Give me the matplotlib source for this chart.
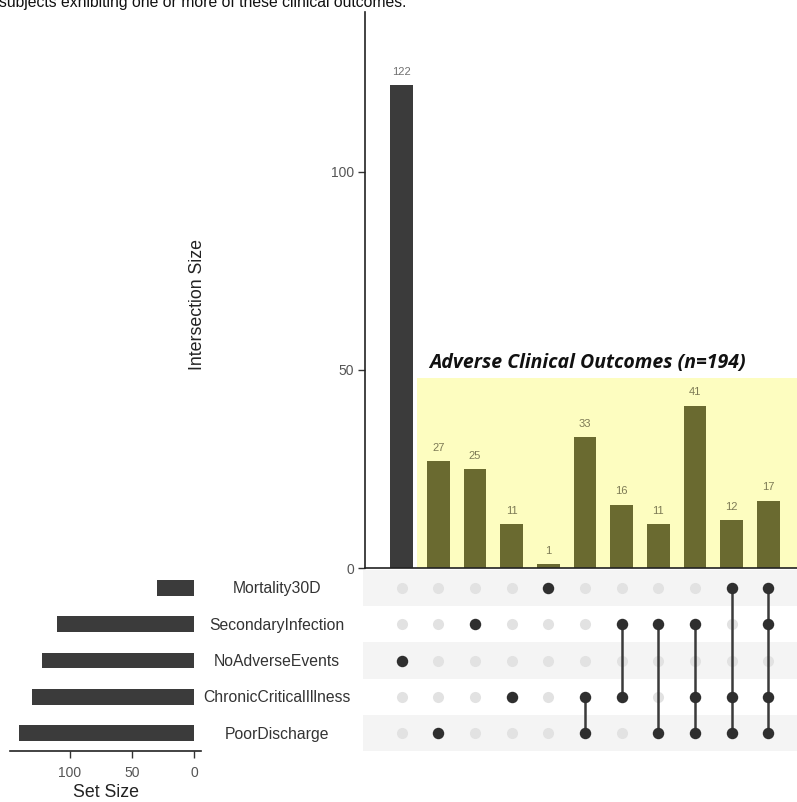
import matplotlib
matplotlib.use("Agg")
import matplotlib.pyplot as plt
from matplotlib.patches import Rectangle

# ---- data -------------------------------------------------------------
set_names = ["Mortality30D", "SecondaryInfection", "NoAdverseEvents",
             "ChronicCriticalIllness", "PoorDischarge"]
intersection_sizes = [122, 27, 25, 11, 1, 33, 16, 11, 41, 12, 17]
# members of each intersection (by set name)
intersection_members = [
    ["NoAdverseEvents"],
    ["PoorDischarge"],
    ["SecondaryInfection"],
    ["ChronicCriticalIllness"],
    ["Mortality30D"],
    ["ChronicCriticalIllness", "PoorDischarge"],
    ["SecondaryInfection", "ChronicCriticalIllness"],
    ["SecondaryInfection", "PoorDischarge"],
    ["SecondaryInfection", "ChronicCriticalIllness", "PoorDischarge"],
    ["Mortality30D", "ChronicCriticalIllness", "PoorDischarge"],
    ["Mortality30D", "SecondaryInfection", "ChronicCriticalIllness", "PoorDischarge"],
]
intersection_ticks = [0, 50, 100]
set_size_ticks = [100, 50, 0]
highlight_top = 48
title_text = "Adverse Clinical Outcomes (n=194)"
caption_text = "subjects exhibiting one or more of these clinical outcomes."

set_sizes = [sum(s for s, m in zip(intersection_sizes, intersection_members) if n in m)
             for n in set_names]

# ---- layout helpers ---------------------------------------------------
W, H = 797, 802
fig = plt.figure(figsize=(W / 100, H / 100), dpi=100)
plt.rcParams["font.family"] = ["Liberation Sans", "DejaVu Sans"]


def rect(x0, y0, x1, y1):
    return [x0 / W, 1 - y1 / H, (x1 - x0) / W, (y1 - y0) / H]


n = len(intersection_sizes)
col0, colstep = 401.7, 36.67
xl = ((365 - col0) / colstep, (797 - col0) / colstep)
dark = "#3b3b3b"
olive = "#6a6a30"
label_gray = "#555555"

# ---- intersection bar chart ------------------------------------------
axb = fig.add_axes(rect(365, 12, 797, 568))
axb.set_xlim(*xl)
axb.set_ylim(0, 140.4)
hx0 = (417 - col0) / colstep
axb.add_patch(Rectangle((hx0, 0), xl[1] - hx0, highlight_top,
                        facecolor="#fdfdc0", edgecolor="none", zorder=0))
xs = list(range(n))
colors = [dark] + [olive] * (n - 1)
axb.bar(xs, intersection_sizes, width=0.62, color=colors, zorder=2)
for x, v in zip(xs, intersection_sizes):
    axb.annotate(str(v), (x, v), xytext=(0, 6), textcoords="offset points",
                 ha="center", va="bottom", fontsize=8,
                 color="#707070" if x == 0 else "#7d7a55")
axb.set_xticks([])
axb.set_yticks(intersection_ticks)
axb.tick_params(axis="y", length=5, width=1, color="#333333", labelsize=10,
                labelcolor=label_gray, pad=3)
for s in ["top", "right"]:
    axb.spines[s].set_visible(False)
for s in ["left", "bottom"]:
    axb.spines[s].set_color("#222222")
    axb.spines[s].set_linewidth(1.2)
axb.text(hx0 + 0.33, highlight_top + 2.5, title_text,
         fontsize=14, fontweight="bold", fontstyle="italic", family="Open Sans",
         ha="left", va="baseline", color="#111111")
fig.text(197 / W, 1 - 305 / H, "Intersection Size", rotation=90, ha="center",
         va="center", fontsize=12.8, color="#222222")

# ---- matrix ----------------------------------------------------------
axm = fig.add_axes(rect(363, 570, 797, 751))
axm.set_xlim((363 - col0) / colstep, xl[1])
axm.set_ylim(len(set_names) - 0.5, -0.5)
for r in range(len(set_names)):
    if r % 2 == 0:
        axm.axhspan(r - 0.5, r + 0.5, color="#f4f4f4", zorder=0, lw=0)
for x, members in enumerate(intersection_members):
    rows = [set_names.index(m) for m in members]
    for r in range(len(set_names)):
        if r not in rows:
            axm.scatter(x, r, s=64, color="#e2e2e2", zorder=1, lw=0)
    if len(rows) > 1:
        axm.plot([x, x], [min(rows), max(rows)], color="#3b3b3b", lw=1.8, zorder=2)
    axm.scatter([x] * len(rows), rows, s=68, color="#2f2f2f", zorder=3, lw=0)
axm.axis("off")

# ---- set size bars ---------------------------------------------------
axs = fig.add_axes(rect(10, 570, 201, 751))
axs.set_xlim(147.9, -5.4)
axs.set_ylim(len(set_names) - 0.5, -0.5)
axs.barh(range(len(set_names)), set_sizes, height=0.44, color=dark)
axs.set_yticks([])
axs.set_xticks(set_size_ticks)
axs.tick_params(axis="x", length=5, width=1, color="#333333", labelsize=10,
                labelcolor=label_gray, pad=6)
for s in ["top", "right", "left"]:
    axs.spines[s].set_visible(False)
axs.spines["bottom"].set_color("#222222")
axs.spines["bottom"].set_linewidth(1.2)
axs.set_xlabel("Set Size", fontsize=12.8, color="#222222", labelpad=3)

for r, name in enumerate(set_names):
    ycen = 589 + r * 36.3
    fig.text(277 / W, 1 - ycen / H, name, ha="center", va="center",
             fontsize=11.3, color="#333333")

# ---- caption line running off the top edge ---------------------------
fig.text(-1 / W, 1 - 7 / H, caption_text, ha="left", va="baseline",
         fontsize=11.3, color="#111111")

fig.savefig("out.png", dpi=100)
